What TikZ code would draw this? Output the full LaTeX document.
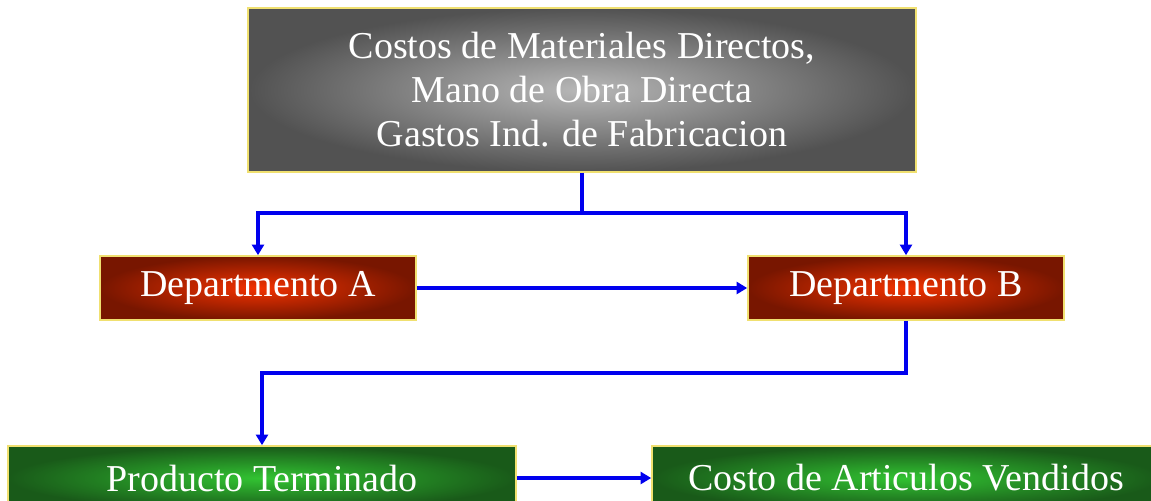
\documentclass[tikz,border=0pt]{standalone}
\usepackage{fontspec}
\setmainfont{Liberation Serif}
\usetikzlibrary{shapes,arrows.meta,calc}
\definecolor{frameyellow}{HTML}{F0E070}
\definecolor{flowblue}{HTML}{0000EE}
\begin{document}
\begin{tikzpicture}[x=0.75pt,y=-0.75pt]
				\tikzstyle{box}=[rectangle, draw=frameyellow, line width=1.2pt, text=white, align=center, font=\fontsize{28.5}{33}\selectfont, inner sep=0pt]
				\tikzstyle{graybox}=[box, inner color=black!28, outer color=black!68, minimum width=501pt, minimum height=123pt]
				\tikzstyle{redbox}=[box, inner color={rgb,255:red,242;green,50;blue,0}, outer color={rgb,255:red,120;green,22;blue,0}, minimum width=237pt, minimum height=48pt]
				\tikzstyle{greenbox}=[box, inner color={rgb,255:red,50;green,195;blue,50}, outer color={rgb,255:red,25;green,90;blue,25}, minimum width=381pt, minimum height=48pt]
				\tikzstyle{flow}=[draw=flowblue, line width=3pt, -{Triangle[length=8pt,width=9pt]}]
				\clip (0,0) rectangle (1151,500);
				\fill[white] (0,0) rectangle (1151,500);
				\node[graybox] (costos) at (582,90) {Costos de Materiales Directos,\\Mano de Obra Directa\\Gastos Ind. de Fabricacion};
				\node[redbox] (depA) at (258,288) {Departmento A};
				\node[redbox] (depB) at (906,288) {Departmento B};
				\node[greenbox] (prod) at (262,478) {Producto Terminado};
				\node[greenbox] (cav) at (906,478) {Costo de Articulos Vendidos};
				\draw[flow] (costos.south) -- ++(0,40) -| (depA.north);
				\draw[flow] (costos.south) -- ++(0,40) -| (depB.north);
				\draw[flow] (depA.east) -- (depB.west);
				\draw[flow] (depB.south) -- ++(0,52) -| (prod.north);
				\draw[flow] (prod.east) -- (cav.west);
\end{tikzpicture}
\end{document}
